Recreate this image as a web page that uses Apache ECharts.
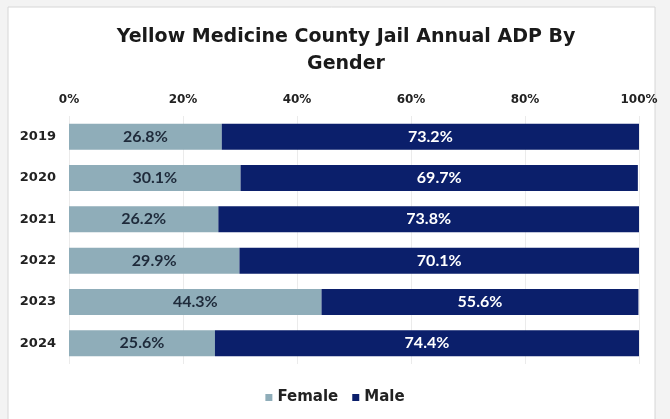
<!DOCTYPE html>
<html><head><meta charset="utf-8">
<script src="https://cdn.jsdelivr.net/npm/echarts@6/dist/echarts.min.js"></script>
<style>html,body{margin:0;padding:0;background:#fff}#c{width:670px;height:419px}</style>
</head><body><div id="c"></div>
<script>
const years = ['2019','2020','2021','2022','2023','2024'];
const female = [26.8, 30.1, 26.2, 29.9, 44.3, 25.6];
const male = [73.2, 69.7, 73.8, 70.1, 55.6, 74.4];
const xTicks = ['0%','20%','40%','60%','80%','100%'];

const BOLD = 'DejaVu Sans';
const chart = echarts.init(document.getElementById('c'));
chart.setOption({
  backgroundColor: '#f3f3f3',
  animation: false,
  graphic: [{
    type: 'rect', z: -10, silent: true,
    shape: {x: 8, y: 7, width: 647, height: 420},
    style: {fill: '#ffffff', stroke: '#d6d6d6', lineWidth: 1}
  }],
  title: {
    text: 'Yellow Medicine County Jail Annual ADP By\nGender',
    left: 341, top: 19, textAlign: 'center',
    textStyle: {fontFamily: BOLD, fontWeight: 'bold', fontSize: 19, color: '#1a1a1a', lineHeight: 27}
  },
  legend: {
    bottom: 9, left: 'center',
    itemWidth: 7, itemHeight: 7, itemGap: 14,
    icon: 'rect',
    textStyle: {fontFamily: BOLD, fontWeight: 'bold', fontSize: 15, color: '#222'},
    data: ['Female', 'Male']
  },
  grid: {left: 69, right: 31, top: 116, height: 248},
  xAxis: {
    type: 'value', position: 'top', min: 0, max: 100, interval: 20,
    axisLine: {show: false}, axisTick: {show: false},
    splitLine: {lineStyle: {color: '#ebebeb'}},
    axisLabel: {
      fontFamily: BOLD, fontWeight: 'bold', fontSize: 12, color: '#222', margin: 10,
      formatter: v => xTicks[Math.round(v / 20)]
    }
  },
  yAxis: {
    type: 'category', data: years, inverse: true,
    axisLine: {show: false}, axisTick: {show: false},
    axisLabel: {fontFamily: BOLD, fontWeight: 'bold', fontSize: 13, color: '#222', margin: 13}
  },
  series: [
    {
      name: 'Female', type: 'bar', stack: 'g', data: female, barCategoryGap: '37%',
      itemStyle: {color: '#8fadb9'},
      label: {show: true, position: 'inside', formatter: p => p.value.toFixed(1) + '%',
        fontFamily: 'Lato', fontWeight: 'bold', fontSize: 16, color: '#1e2a3a'}
    },
    {
      name: 'Male', type: 'bar', stack: 'g', data: male,
      itemStyle: {color: '#0b1f6b'},
      label: {show: true, position: 'inside', formatter: p => p.value.toFixed(1) + '%',
        fontFamily: 'Lato', fontWeight: 'bold', fontSize: 16, color: '#ffffff'}
    }
  ]
});
</script></body></html>
